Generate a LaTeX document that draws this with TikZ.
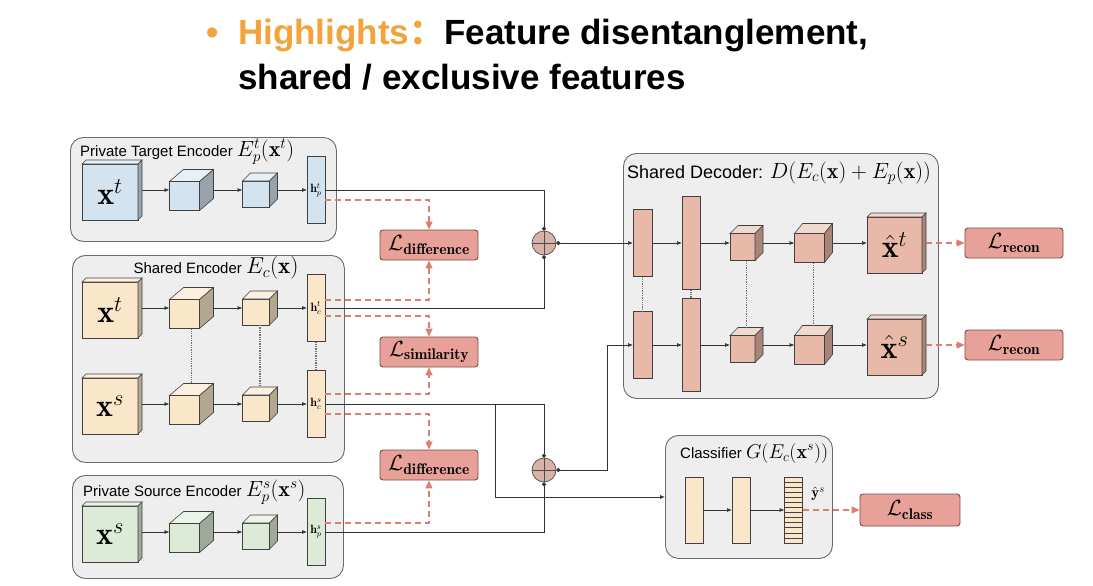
\RequirePackage{fix-cm}
\documentclass[tikz,border=0pt]{standalone}
\usepackage{amsmath,amssymb}
\usepackage{fontspec}
\newfontfamily\arial{Liberation Sans}
\newfontfamily\cjk{Noto Sans CJK SC}
\usepackage{xcolor}
\usepackage{tikz}
\usetikzlibrary{arrows.meta,positioning,calc}

\definecolor{encblue}{HTML}{D3E3EF}
\definecolor{enctan}{HTML}{FAE6C8}
\definecolor{encgreen}{HTML}{DDEAD5}
\definecolor{decpink}{HTML}{E8B9A8}
\definecolor{lossred}{HTML}{E7A198}
\definecolor{lossedge}{HTML}{7E4A44}
\definecolor{dashred}{HTML}{E07D72}
\definecolor{panelgray}{HTML}{EEEEEE}
\definecolor{paneledge}{HTML}{6A6A6A}
\definecolor{plusfill}{HTML}{D8B1A7}
\definecolor{hlorange}{HTML}{F2A33A}

% math at a given size inside the sans labels
\newcommand{\mth}[2]{{\fontsize{#1}{#1}\selectfont$#2$}}
% front, top and side faces of a block, drawn inside node #1
\newcommand{\cubefaces}[4]{%
  \filldraw[cubeline, fill=#2] (#1.south west) rectangle ($(#1.north east)+(-#3pt,-#4pt)$);
  \filldraw[cubeline, fill=#2!55!white] ($(#1.north west)+(0pt,-#4pt)$) -- ($(#1.north west)+(#3pt,0pt)$) -- (#1.north east) -- ($(#1.north east)+(-#3pt,-#4pt)$) -- cycle;
  \filldraw[cubeline, fill=#2!72!black] ($(#1.north east)+(-#3pt,-#4pt)$) -- (#1.north east) -- ($(#1.south east)+(0pt,#4pt)$) -- ($(#1.south east)+(-#3pt,0pt)$) -- cycle;
}

\begin{document}
\begin{tikzpicture}[x=1pt, y=-1pt,
  ttl/.style={font=\arial\bfseries\fontsize{35}{42}\selectfont, inner sep=0pt},
  lbl/.style={font=\arial\fontsize{15}{17}\selectfont, anchor=west, inner sep=0pt},
  panel/.style={draw=paneledge, fill=panelgray, line width=0.9pt, rounded corners=13pt, anchor=north west, inner sep=0pt},
  cubebox/.style 2 args={minimum width=#1, minimum height=#2, inner sep=0pt, outer sep=0pt},
  cubeline/.style={draw=black!75, line width=0.6pt},
  bar/.style={draw=black!75, line width=0.6pt, minimum width=18pt, minimum height=#1, inner sep=0pt, outer sep=0pt, font=\fontsize{12}{13}\selectfont},
  bigsym/.style={inner sep=0pt, font=\fontsize{32}{34}\selectfont},
  loss/.style={draw=lossedge, fill=lossred, line width=0.9pt, rounded corners=3pt, minimum width=98pt, minimum height=30pt, inner sep=0pt, font=\fontsize{22}{24}\selectfont},
  plus/.style={circle, draw=black!70, fill=plusfill, line width=0.7pt, minimum size=24pt, inner sep=0pt,
    path picture={\draw[black!70, line width=0.7pt] (path picture bounding box.west) -- (path picture bounding box.east)
      (path picture bounding box.north) -- (path picture bounding box.south);}},
  wire/.style={line width=0.7pt, black!80},
  arr/.style={wire, -{Latex[length=5pt,width=4pt]}},
  dotend/.style={wire, -{Circle[length=4pt]}},
  dotarr/.style={wire, {Circle[length=4pt]}-{Latex[length=5pt,width=4pt]}},
  darr/.style={draw=dashred, line width=1.1pt, dash pattern=on 6pt off 4pt, -{Triangle[length=8pt,width=7pt]}},
  vdots/.style={densely dotted, line width=1.3pt, black!55}
]
\fill[white] (0,0) rectangle (1093,586);
\useasboundingbox (0,0) rectangle (1093,586);

% title
\node[ttl, anchor=base, text=hlorange] (bul) at (213,45) {•};
\node[ttl, anchor=base west] (ttl1) at (238,45) {\textcolor{hlorange}{Highlights\cjk：}Feature disentanglement,};
\node[ttl, anchor=base west] (ttl2) at (238,89) {shared / exclusive features};

% panels
\node[panel, minimum width=266pt, minimum height=104pt] (ptgt) at (70,137) {};
\node[panel, minimum width=272pt, minimum height=207pt] (shenc) at (72,255) {};
\node[panel, minimum width=271pt, minimum height=103pt] (psrc) at (72,475) {};
\node[panel, minimum width=315pt, minimum height=245pt] (dec) at (623,153) {};
\node[panel, minimum width=167pt, minimum height=123pt] (cls) at (665,435) {};

\node[lbl] (ptgt-l) at (80,152) {Private Target Encoder \mth{22}{E_p^t(\mathbf{x}^t)}};
\node[lbl, anchor=center] (shenc-l) at (216,268) {Shared Encoder \mth{23}{E_c(\mathbf{x})}};
\node[lbl] (psrc-l) at (83,492) {Private Source Encoder \mth{22}{E_p^s(\mathbf{x}^s)}};
\node[lbl, font=\arial\fontsize{18}{20}\selectfont] (dec-l) at (627,173) {Shared Decoder: \mth{22}{D(E_c(\mathbf{x})+E_p(\mathbf{x}))}};
\node[lbl] (cls-l) at (680,453) {Classifier \mth{20}{G(E_c(\mathbf{x}^s))}};

% encoder rows
\foreach \nm/\yy/\cl/\rsup/\rsub in {t/190/encblue/t/p, a/308/enctan/t/c, b/404/enctan/s/c, s/532/encgreen/s/p}{
  \node[cubebox={60pt}{60pt}] (in\nm) at (112,\yy) {};
  \node[cubebox={44pt}{41pt}] (cA\nm) at (191.5,\yy) {};
  \node[cubebox={35pt}{34pt}] (cB\nm) at (260,\yy) {};
  \node[bar=67pt, fill=\cl] (h\nm) at (316,\yy) {$\mathbf{h}_{\rsub}^{\rsup}$};
  \cubefaces{in\nm}{\cl}{4}{4}
  \cubefaces{cA\nm}{\cl}{14}{12}
  \cubefaces{cB\nm}{\cl}{8}{8}
  \node[bigsym, xshift=-2pt, yshift=-2pt] (in\nm-t) at (in\nm) {$\mathbf{x}^{\rsup}$};
  \draw[arr] (in\nm) -- (cA\nm);
  \draw[arr] (cA\nm) -- (cB\nm);
  \draw[arr] (cB\nm) -- (h\nm);
}
\draw[vdots] (cAa.south) -- (cAb.north);
\draw[vdots] (cBa.south) -- (cBb.north);
\draw[vdots] (ha.south) -- (hb.north);

% decoder rows
\foreach \nm/\yy in {t/243, s/345}{
  \node[bar=67pt, fill=decpink, minimum width=19pt] (d1\nm) at (642.5,\yy) {};
  \node[bar=93pt, fill=decpink] (d2\nm) at (691,\yy) {};
  \node[cubebox={33pt}{35pt}] (d3\nm) at (746.5,\yy) {};
  \node[cubebox={38pt}{39pt}] (d4\nm) at (813.5,\yy) {};
  \node[cubebox={59pt}{60pt}] (xh\nm) at (896.5,\yy) {};
  \cubefaces{d3\nm}{decpink}{8}{8}
  \cubefaces{d4\nm}{decpink}{8}{10}
  \cubefaces{xh\nm}{decpink}{4}{4}
  \node[bigsym, xshift=-2pt, yshift=-2pt] (xh\nm-t) at (xh\nm) {$\hat{\mathbf{x}}^{\nm}$};
  \draw[arr] (d1\nm) -- (d2\nm);
  \draw[arr] (d2\nm) -- (d3\nm);
  \draw[arr] (d3\nm) -- (d4\nm);
  \draw[arr] (d4\nm) -- (xh\nm);
  \node[loss] (lr\nm) at (1014,\yy) {$\mathcal{L}_{\mathbf{recon}}$};
  \draw[darr] (xh\nm) -- (lr\nm);
}
\draw[vdots] (d1t.south) -- (d1s.north);
\draw[vdots] (d2t.south) -- (d2s.north);
\draw[vdots] (d3t.south) -- (d3s.north);
\draw[vdots] (d4t.south) -- (d4s.north);

% losses between the encoders
\node[loss] (ldt) at (429,245) {$\mathcal{L}_{\mathbf{difference}}$};
\node[loss] (lsim) at (429,352) {$\mathcal{L}_{\mathbf{similarity}}$};
\node[loss] (lds) at (429,465) {$\mathcal{L}_{\mathbf{difference}}$};

\draw[darr] ([yshift=-10pt]ht.east) -| (ldt.north);
\draw[darr] ([yshift=8pt]ha.east) -| (ldt.south);
\draw[darr] ([yshift=-8pt]ha.east) -| (lsim.north);
\draw[darr] ([yshift=10pt]hb.east) -| (lsim.south);
\draw[darr] ([yshift=-10pt]hb.east) -| (lds.north);
\draw[darr] ([yshift=9pt]hs.east) -| (lds.south);

% sums
\node[plus] (pl1) at (544,243) {};
\node[plus] (pl2) at (544,470) {};
\draw[dotend] (ht.east) -| (pl1.north);
\draw[dotend] (ha.east) -| (pl1.south);
\draw[dotend] (hb.east) -| (pl2.north);
\draw[dotend] (hs.east) -| (pl2.south);
\draw[dotarr] (pl1.east) -- (d1t.west);
\draw[dotarr] (pl2.east) -- ++(51,0) |- (d1s.west);
\coordinate (brk) at (495,404);
\draw[arr] (brk) |- (cls.west);

% classifier
\node[bar=66pt, fill=enctan] (cb1) at (694,510) {};
\node[bar=66pt, fill=enctan] (cb2) at (741,510) {};
\node[bar=66pt, fill=enctan] (cb3) at (793.5,510) {};
\foreach \k in {1,...,12}
  \draw[cubeline] ($(cb3.north west)!\k/13!(cb3.south west)$) -- ($(cb3.north east)!\k/13!(cb3.south east)$);
\draw[arr] (cb1) -- (cb2);
\draw[arr] (cb2) -- (cb3);
\node[font=\fontsize{15}{16}\selectfont, inner sep=0pt] (yh) at (818,494) {$\hat{\mathbf{y}}^s$};
\node[loss, minimum width=100pt, minimum height=32pt] (lcls) at (910,510) {$\mathcal{L}_{\mathbf{class}}$};
\draw[darr] (cb3) -- (lcls);
\end{tikzpicture}
\end{document}
